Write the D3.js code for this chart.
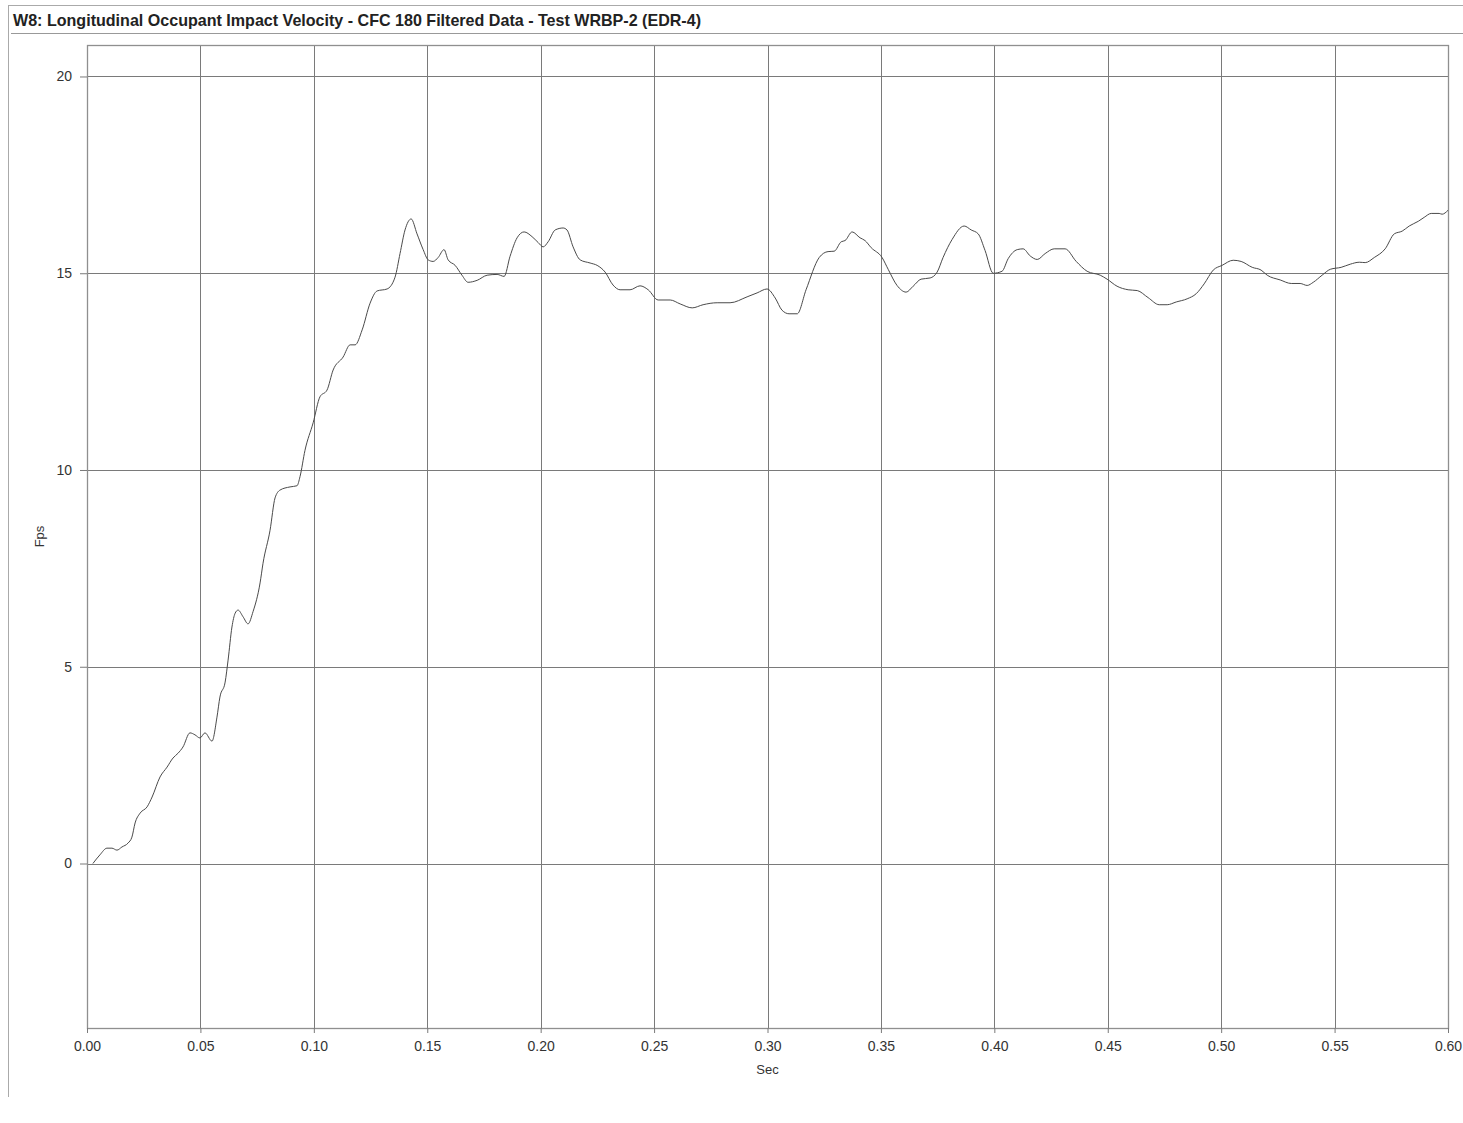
<!DOCTYPE html>
<html>
<head>
<meta charset="utf-8">
<script src="https://cdn.jsdelivr.net/npm/d3@7"></script>
<style>
  html, body { margin: 0; padding: 0; background: #fff; }
  svg { display: block; font-family: "Liberation Sans", Arial, sans-serif; }
</style>
</head>
<body>
<svg id="chart" width="1463" height="1123"></svg>
<script>
// ---- Data ----
const titleText = "W8: Longitudinal Occupant Impact Velocity - CFC 180 Filtered Data - Test WRBP-2 (EDR-4)";
const xLabel = "Sec";
const yLabel = "Fps";
const xTicks = [0, 0.05, 0.10, 0.15, 0.20, 0.25, 0.30, 0.35, 0.40, 0.45, 0.50, 0.55, 0.60];
const yTicks = [0, 5, 10, 15, 20];
const xDomain = [0, 0.6];
const yDomain = [-4.18, 20.8];

const timeSec = [
  0.0026, 0.0057, 0.0088, 0.0110, 0.0132, 0.0154, 0.0181, 0.0198, 0.0212, 0.0234,
  0.0265, 0.0287, 0.0322, 0.0353, 0.0379, 0.0401, 0.0423, 0.0454, 0.0476, 0.0498,
  0.0520, 0.0551, 0.0573, 0.0586, 0.0609, 0.0622, 0.0639, 0.0653, 0.0666, 0.0688,
  0.0710, 0.0732, 0.0763, 0.0776, 0.0807, 0.0829, 0.0851, 0.0895, 0.0926, 0.0939,
  0.0961, 0.0997, 0.1027, 0.1058, 0.1085, 0.1129, 0.1160, 0.1182, 0.1213, 0.1248,
  0.1279, 0.1323, 0.1358, 0.1380, 0.1402, 0.1429, 0.1455, 0.1482, 0.1504, 0.1526,
  0.1548, 0.1574, 0.1592, 0.1623, 0.1653, 0.1680, 0.1720, 0.1764, 0.1808, 0.1839,
  0.1865, 0.1896, 0.1927, 0.1962, 0.1989, 0.2011, 0.2033, 0.2064, 0.2099, 0.2116,
  0.2143, 0.2174, 0.2218, 0.2249, 0.2284, 0.2319, 0.2350, 0.2394, 0.2438, 0.2474,
  0.2518, 0.2571, 0.2615, 0.2668, 0.2716, 0.2778, 0.2835, 0.2910, 0.2954, 0.2998,
  0.3034, 0.3064, 0.3095, 0.3131, 0.3170, 0.3228, 0.3267, 0.3294, 0.3325, 0.3342,
  0.3373, 0.3408, 0.3430, 0.3457, 0.3505, 0.3532, 0.3571, 0.3611, 0.3642, 0.3677,
  0.3717, 0.3748, 0.3774, 0.3814, 0.3867, 0.3898, 0.3929, 0.3959, 0.3995, 0.4034,
  0.4061, 0.4101, 0.4127, 0.4158, 0.4189, 0.4224, 0.4264, 0.4312, 0.4361, 0.4409,
  0.4467, 0.4497, 0.4541, 0.4590, 0.4630, 0.4678, 0.4727, 0.4762, 0.4802, 0.4850,
  0.4890, 0.4925, 0.4965, 0.5004, 0.5053, 0.5088, 0.5137, 0.5176, 0.5203, 0.5260,
  0.5309, 0.5348, 0.5379, 0.5406, 0.5445, 0.5481, 0.5529, 0.5569, 0.5609, 0.5635,
  0.5675, 0.5723, 0.5763, 0.5798, 0.5829, 0.5869, 0.5895, 0.5926, 0.5961, 0.5974,
  0.6000
];
const velocityFps = [
  0.00, 0.22, 0.39, 0.39, 0.34, 0.42, 0.52, 0.67, 1.03, 1.28,
  1.44, 1.69, 2.20, 2.45, 2.68, 2.80, 2.96, 3.32, 3.27, 3.19,
  3.32, 3.11, 3.72, 4.23, 4.61, 5.17, 6.01, 6.36, 6.44, 6.27,
  6.09, 6.40, 7.13, 7.63, 8.47, 9.29, 9.49, 9.57, 9.60, 9.83,
  10.50, 11.20, 11.86, 12.03, 12.54, 12.87, 13.18, 13.18, 13.56, 14.24,
  14.55, 14.60, 14.90, 15.50, 16.10, 16.38, 16.00, 15.60, 15.34, 15.30,
  15.40, 15.60, 15.34, 15.20, 14.95, 14.77, 14.82, 14.95, 14.97, 14.92,
  15.43, 15.90, 16.05, 15.93, 15.78, 15.67, 15.80, 16.10, 16.15, 16.10,
  15.67, 15.34, 15.26, 15.20, 15.03, 14.70, 14.58, 14.58, 14.68, 14.58,
  14.32, 14.32, 14.22, 14.12, 14.20, 14.25, 14.25, 14.40, 14.50, 14.60,
  14.37, 14.06, 13.97, 13.97, 14.58, 15.40, 15.55, 15.56, 15.80, 15.83,
  16.05, 15.90, 15.83, 15.65, 15.40, 15.10, 14.69, 14.52, 14.67, 14.85,
  14.88, 15.03, 15.40, 15.86, 16.20, 16.10, 16.00, 15.58, 15.00, 15.05,
  15.37, 15.60, 15.62, 15.44, 15.35, 15.50, 15.62, 15.62, 15.30, 15.05,
  14.95, 14.85, 14.67, 14.58, 14.56, 14.38, 14.20, 14.20, 14.27, 14.35,
  14.48, 14.73, 15.08, 15.20, 15.33, 15.30, 15.15, 15.08, 14.95, 14.83,
  14.74, 14.74, 14.69, 14.77, 14.95, 15.10, 15.15, 15.23, 15.28, 15.27,
  15.40, 15.62, 16.00, 16.07, 16.20, 16.32, 16.42, 16.52, 16.52, 16.50,
  16.60
];

// ---- Layout ----
const svg = d3.select("#chart");
const W = 1463;
const plot = { left: 87, right: 1448, top: 45, bottom: 1028 };
const frameColor = "#8f8f8f";
const gridColor = "#7a7a7a";
const textColor = "#333";

const x = d3.scaleLinear().domain(xDomain).range([plot.left, plot.right]);
const y = d3.scaleLinear().domain(yDomain).range([plot.bottom, plot.top]);

// outer frame
svg.append("line").attr("x1", 8).attr("x2", W).attr("y1", 5.5).attr("y2", 5.5)
  .attr("stroke", "#aaa").attr("stroke-width", 1);
svg.append("line").attr("x1", 8.5).attr("x2", 8.5).attr("y1", 5).attr("y2", 1097)
  .attr("stroke", "#aaa").attr("stroke-width", 1);
svg.append("line").attr("x1", 11).attr("x2", W).attr("y1", 33.5).attr("y2", 33.5)
  .attr("stroke", "#999").attr("stroke-width", 1.2);

// title
svg.append("text")
  .attr("x", 13).attr("y", 26)
  .attr("font-size", 17).attr("font-weight", "bold")
  .attr("fill", "#222")
  .attr("textLength", 688).attr("lengthAdjust", "spacingAndGlyphs")
  .text(titleText);

// grid
const g = svg.append("g");
g.selectAll(".vgrid").data(xTicks).enter().append("line")
  .attr("x1", d => Math.round(x(d)) + 0.5).attr("x2", d => Math.round(x(d)) + 0.5)
  .attr("y1", plot.top).attr("y2", plot.bottom)
  .attr("stroke", gridColor).attr("stroke-width", 1);
g.selectAll(".hgrid").data(yTicks).enter().append("line")
  .attr("x1", plot.left).attr("x2", plot.right)
  .attr("y1", d => Math.round(y(d)) + 0.5).attr("y2", d => Math.round(y(d)) + 0.5)
  .attr("stroke", gridColor).attr("stroke-width", 1);

// plot frame
svg.append("rect")
  .attr("x", plot.left + 0.5).attr("y", plot.top + 0.5)
  .attr("width", plot.right - plot.left).attr("height", plot.bottom - plot.top)
  .attr("fill", "none").attr("stroke", frameColor).attr("stroke-width", 1.3);

// axes
const xAxis = d3.axisBottom(x).tickValues(xTicks).tickFormat(d3.format(".2f"))
  .tickSize(5).tickPadding(8);
const xg = svg.append("g").attr("transform", `translate(0,${plot.bottom})`).call(xAxis);
xg.select(".domain").remove();
xg.selectAll(".tick line").attr("stroke", gridColor);
xg.selectAll(".tick text").attr("font-size", 14).attr("fill", textColor)
  .attr("font-family", "Liberation Sans, Arial, sans-serif");

const yAxis = d3.axisLeft(y).tickValues(yTicks).tickFormat(d3.format("d"))
  .tickSize(7).tickPadding(8);
const yg = svg.append("g").attr("transform", `translate(${plot.left},0)`).call(yAxis);
yg.select(".domain").remove();
yg.selectAll(".tick line").attr("stroke", gridColor);
yg.selectAll(".tick text").attr("font-size", 14).attr("fill", textColor)
  .attr("font-family", "Liberation Sans, Arial, sans-serif");

// axis labels
svg.append("text").attr("x", x(0.3)).attr("y", 1074)
  .attr("text-anchor", "middle").attr("font-size", 13).attr("fill", textColor)
  .text(xLabel);
svg.append("text")
  .attr("transform", `translate(44,${(y(yDomain[0]) + y(yDomain[1])) / 2}) rotate(-90)`)
  .attr("text-anchor", "middle").attr("font-size", 13).attr("fill", textColor)
  .text(yLabel);

// data line
const pts = timeSec.map((t, i) => [t, velocityFps[i]]);
const line = d3.line().x(d => x(d[0])).y(d => y(d[1])).curve(d3.curveMonotoneX);
svg.append("path").datum(pts)
  .attr("d", line)
  .attr("fill", "none").attr("stroke", "#4a4a4a").attr("stroke-width", 1);
</script>
</body>
</html>
